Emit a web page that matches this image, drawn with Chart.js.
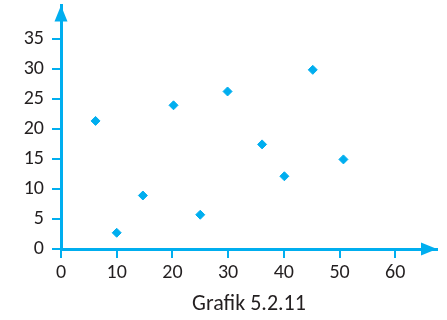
<!DOCTYPE html>
<html>
<head>
<meta charset="utf-8">
<script src="https://cdn.jsdelivr.net/npm/chart.js@4"></script>
<style>
  html, body { margin: 0; padding: 0; background: #fff; }
  #wrap { width: 447px; height: 320px; }
</style>
</head>
<body>
<div id="wrap"><canvas id="scatterChart" width="447" height="320"></canvas></div>
<script>
const xValues = [6.2, 10.0, 14.7, 20.2, 25.0, 29.9, 36.1, 40.1, 45.2, 50.7];
const yValues = [21.3, 2.7, 8.9, 23.9, 5.7, 26.2, 17.4, 12.1, 29.8, 14.9];
const xTicks = [0, 10, 20, 30, 40, 50, 60];
const yTicks = [0, 5, 10, 15, 20, 25, 30, 35];
const caption = "Grafik 5.2.11";

const blue = "#00AEEF";
const textColor = "#231F20";
const fontFamily = "Carlito, Lato, sans-serif";

const points = xValues.map((x, i) => ({ x: x, y: yValues[i] }));

// arrow heads at the ends of both axes
const axisArrows = {
  id: "axisArrows",
  afterDraw(chart) {
    const { ctx, chartArea: { left, right, top, bottom } } = chart;
    ctx.save();
    ctx.fillStyle = blue;
    ctx.beginPath();
    ctx.moveTo(left, top);
    ctx.lineTo(left - 6.5, top + 16);
    ctx.lineTo(left + 6.5, top + 16);
    ctx.closePath();
    ctx.fill();
    ctx.beginPath();
    ctx.moveTo(right, bottom);
    ctx.lineTo(right - 16, bottom - 6.5);
    ctx.lineTo(right - 16, bottom + 6.5);
    ctx.closePath();
    ctx.fill();
    ctx.restore();
  },
};

const ctx = document.getElementById("scatterChart").getContext("2d");

const chart = new Chart(ctx, {
  type: "scatter",
  data: {
    datasets: [
      {
        data: points,
        backgroundColor: blue,
        borderColor: blue,
        borderWidth: 1,
        pointStyle: "rectRot",
        pointRadius: 4.5,
      },
    ],
  },
  options: {
    responsive: false,
    animation: false,
    layout: {
      padding: { top: 0, right: 10, bottom: 0, left: 10 },
    },
    plugins: {
      legend: { display: false },
      tooltip: { enabled: false },
    },
    scales: {
      x: {
        type: "linear",
        min: 0,
        max: 67.5,
        afterBuildTicks(scale) {
          scale.ticks = xTicks.map((v) => ({ value: v }));
        },
        afterFit(scale) {
          scale.height = 71;
          scale.paddingLeft = 0;
          scale.paddingRight = 0;
        },
        grid: {
          drawOnChartArea: false,
          drawTicks: true,
          tickLength: 9,
          color: blue,
          lineWidth: 2,
        },
        border: { display: true, color: blue, width: 3 },
        ticks: {
          color: textColor,
          padding: 3,
          maxRotation: 0,
          font: { family: fontFamily, size: 20 },
        },
        title: {
          display: true,
          text: caption,
          color: textColor,
          font: { family: fontFamily, size: 22, lineHeight: 1.2 },
          padding: { top: 0, bottom: 2 },
        },
      },
      y: {
        type: "linear",
        min: 0,
        max: 40.5,
        afterBuildTicks(scale) {
          scale.ticks = yTicks.map((v) => ({ value: v }));
        },
        afterFit(scale) {
          scale.width = 51;
          scale.paddingTop = 0;
          scale.paddingBottom = 0;
        },
        grid: {
          drawOnChartArea: false,
          drawTicks: true,
          tickLength: 9,
          color: blue,
          lineWidth: 2,
        },
        border: { display: true, color: blue, width: 3 },
        ticks: {
          color: textColor,
          padding: 8,
          font: { family: fontFamily, size: 20 },
        },
      },
    },
  },
  plugins: [axisArrows],
});
</script>
</body>
</html>
